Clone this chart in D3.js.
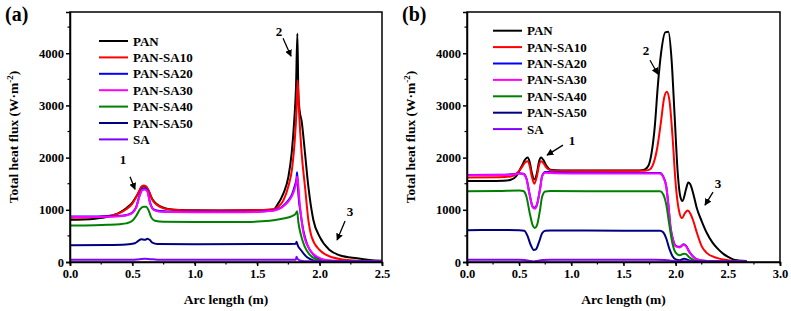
<!DOCTYPE html>
<html>
<head>
<meta charset="utf-8">
<script src="https://cdn.jsdelivr.net/npm/d3@7"></script>
<style>
  body { margin: 0; background: #fff; }
  svg text { font-family: "Liberation Serif", "Times New Roman", "DejaVu Serif", serif !important; font-weight: bold; }
</style>
</head>
<body>
<svg id="chart"></svg>
<script>
let width = 791
let height = 311

let seriesNames = ['PAN', 'PAN-SA10', 'PAN-SA20', 'PAN-SA30', 'PAN-SA40', 'PAN-SA50', 'SA']
let seriesColors = ['#000000', '#ff0000', '#0000ff', '#ff00ff', '#008000', '#000080', '#8000ff']
let yTicks = [0, 1000, 2000, 3000, 4000]
let xTicksA = [0, 0.5, 1.0, 1.5, 2.0, 2.5]
let xTicksB = [0, 0.5, 1.0, 1.5, 2.0, 2.5, 3.0]

// panel (a): [arc length (m), heat flux (W/m2)]
let panA_PAN = [[0,810],[0.1,815],[0.2,830],[0.3,865],[0.4,950],[0.45,1030],[0.5,1140],[0.55,1330],[0.57,1420],[0.59,1450],[0.61,1440],[0.63,1360],[0.66,1200],[0.7,1100],[0.75,1040],[0.8,1010],[0.9,995],[1.0,990],[1.2,988],[1.4,990],[1.55,995],[1.63,1005],[1.66,1090],[1.71,1314],[1.75,1633],[1.776,2080],[1.797,2718],[1.811,3355],[1.822,4380],[1.83,3200],[1.84,2900],[1.856,2700],[1.883,2086],[1.91,1442],[1.95,804],[2.0,485],[2.08,230],[2.16,130],[2.3,70],[2.4,40],[2.5,25]]
let panA_SA10 = [[0,850],[0.1,852],[0.2,860],[0.3,880],[0.4,940],[0.45,1010],[0.5,1120],[0.55,1340],[0.57,1440],[0.59,1465],[0.61,1450],[0.63,1370],[0.66,1190],[0.7,1090],[0.75,1030],[0.8,1005],[0.9,992],[1.0,988],[1.2,986],[1.4,990],[1.55,995],[1.63,1010],[1.67,1060],[1.71,1180],[1.75,1450],[1.78,1800],[1.8,2300],[1.815,2900],[1.824,3480],[1.835,2900],[1.856,2086],[1.883,1442],[1.91,804],[1.936,485],[2.0,230],[2.05,140],[2.1,90],[2.2,45],[2.3,25],[2.5,12]]
let panA_SA20 = [[0,870],[0.2,872],[0.3,875],[0.4,885],[0.45,900],[0.5,950],[0.53,1050],[0.56,1300],[0.58,1400],[0.6,1415],[0.62,1370],[0.64,1150],[0.67,1010],[0.72,975],[0.8,965],[1.0,962],[1.4,962],[1.5,965],[1.6,980],[1.65,1000],[1.7,1060],[1.75,1180],[1.78,1300],[1.8,1450],[1.815,1600],[1.82,1720],[1.83,1300],[1.85,900],[1.87,600],[1.9,340],[1.95,140],[2.0,60],[2.1,20],[2.3,10],[2.5,8]]
let panA_SA30 = [[0,860],[0.2,862],[0.3,866],[0.4,878],[0.45,892],[0.5,940],[0.53,1040],[0.56,1280],[0.58,1380],[0.6,1390],[0.62,1350],[0.64,1140],[0.67,1000],[0.72,965],[0.8,957],[1.0,955],[1.4,955],[1.5,958],[1.6,975],[1.65,995],[1.7,1050],[1.75,1160],[1.78,1270],[1.8,1400],[1.815,1540],[1.82,1640],[1.843,1060],[1.87,560],[1.92,240],[1.98,100],[2.05,40],[2.2,15],[2.5,8]]
let panA_SA40 = [[0,700],[0.2,705],[0.3,712],[0.4,725],[0.45,740],[0.5,790],[0.53,880],[0.56,1010],[0.59,1060],[0.61,1060],[0.63,990],[0.65,860],[0.68,790],[0.75,770],[1.0,765],[1.4,768],[1.6,790],[1.7,830],[1.78,880],[1.81,930],[1.82,970],[1.83,760],[1.85,520],[1.88,300],[1.92,140],[1.97,55],[2.05,15],[2.5,5]]
let panA_SA50 = [[0,320],[0.3,325],[0.45,335],[0.52,360],[0.55,410],[0.57,435],[0.6,425],[0.62,445],[0.64,420],[0.66,370],[0.7,345],[1.0,342],[1.7,345],[1.81,350],[1.815,390],[1.825,320],[1.85,230],[1.9,90],[1.95,30],[2.0,10],[2.5,5]]
let panA_SA = [[0,42],[0.5,44],[0.56,55],[0.6,60],[0.64,55],[0.7,45],[1.0,44],[1.81,45],[1.815,100],[1.825,55],[1.85,25],[1.9,15],[2.5,12]]

// panel (b)
let panB_PAN = [[0,1550],[0.2,1550],[0.35,1555],[0.42,1575],[0.47,1640],[0.52,1820],[0.56,1970],[0.58,2000],[0.6,1920],[0.62,1720],[0.645,1580],[0.67,1700],[0.69,1920],[0.71,2000],[0.73,1960],[0.76,1850],[0.8,1770],[0.9,1755],[1.2,1755],[1.5,1755],[1.65,1755],[1.7,1770],[1.74,1850],[1.77,2100],[1.8,2600],[1.83,3400],[1.86,4000],[1.9,4400],[1.93,4410],[1.96,3900],[1.99,2800],[2.02,1700],[2.045,1250],[2.065,1170],[2.1,1400],[2.12,1525],[2.14,1490],[2.17,1300],[2.2,1050],[2.25,780],[2.3,550],[2.35,380],[2.4,260],[2.46,150],[2.5,100],[2.55,50],[2.6,30],[2.68,18]]
let panB_SA10 = [[0,1620],[0.3,1625],[0.42,1640],[0.47,1680],[0.52,1800],[0.56,1910],[0.58,1930],[0.6,1850],[0.62,1650],[0.645,1500],[0.67,1640],[0.69,1850],[0.71,1930],[0.73,1900],[0.76,1810],[0.8,1760],[0.9,1750],[1.5,1750],[1.7,1750],[1.75,1770],[1.78,1850],[1.82,2150],[1.86,2700],[1.89,3150],[1.915,3260],[1.94,3100],[1.97,2400],[2.0,1500],[2.03,1000],[2.06,840],[2.09,940],[2.115,985],[2.14,930],[2.17,780],[2.2,580],[2.25,300],[2.3,170],[2.4,75],[2.5,35],[2.6,18],[2.68,10]]
let panB_SA20 = [[0,1665],[0.3,1670],[0.45,1685],[0.5,1700],[0.54,1690],[0.57,1600],[0.6,1300],[0.63,1060],[0.65,1040],[0.67,1100],[0.7,1400],[0.72,1650],[0.75,1725],[0.8,1720],[1.0,1710],[1.5,1705],[1.85,1705],[1.88,1640],[1.91,1450],[1.93,1100],[1.95,680],[1.98,390],[2.0,310],[2.04,290],[2.075,340],[2.1,310],[2.13,200],[2.17,100],[2.2,55],[2.3,20],[2.5,10],[2.68,5]]
let panB_SA30 = [[0,1660],[0.3,1665],[0.45,1680],[0.5,1695],[0.54,1685],[0.57,1590],[0.6,1290],[0.63,1045],[0.65,1020],[0.67,1085],[0.7,1390],[0.72,1640],[0.75,1710],[0.8,1705],[1.0,1698],[1.5,1695],[1.85,1695],[1.88,1630],[1.91,1440],[1.93,1090],[1.95,670],[1.98,380],[2.0,300],[2.04,280],[2.075,330],[2.1,300],[2.13,190],[2.17,95],[2.2,50],[2.3,18],[2.5,9],[2.68,5]]
let panB_SA40 = [[0,1355],[0.3,1360],[0.5,1370],[0.54,1360],[0.57,1250],[0.6,950],[0.63,700],[0.65,650],[0.67,700],[0.7,1000],[0.72,1250],[0.75,1350],[0.8,1360],[1.5,1355],[1.85,1355],[1.88,1300],[1.91,1100],[1.94,700],[1.97,350],[2.0,180],[2.04,130],[2.08,160],[2.1,150],[2.13,90],[2.17,40],[2.2,20],[2.3,8],[2.68,3]]
let panB_SA50 = [[0,610],[0.3,612],[0.5,610],[0.55,600],[0.58,500],[0.61,330],[0.64,230],[0.66,240],[0.69,380],[0.72,550],[0.75,600],[0.8,605],[1.5,600],[1.85,600],[1.88,570],[1.91,450],[1.94,250],[1.97,110],[2.0,50],[2.04,35],[2.08,60],[2.1,55],[2.13,30],[2.2,10],[2.68,3]]
let panB_SA = [[0,45],[0.5,45],[0.55,40],[0.6,20],[0.64,10],[0.68,25],[0.72,40],[0.8,45],[1.8,45],[1.9,40],[1.95,25],[2.0,15],[2.1,12],[2.68,8]]

// annotations: label, label pos, arrow start, arrow end (data units)
let notesA = [
  ['1', [0.425, 1880], [0.481, 1633], [0.521, 1392]],
  ['2', [1.675, 4330], [1.707, 4287], [1.771, 3943]],
  ['3', [2.244, 890], [2.204, 785], [2.14, 421]]
]
let notesB = [
  ['1', [1.006, 2250], [0.92, 2239], [0.767, 2048]],
  ['2', [1.716, 3970], [1.754, 3866], [1.83, 3598]],
  ['3', [2.406, 1420], [2.358, 1340], [2.281, 1091]]
]

let fontFam = '"Liberation Serif", "Times New Roman", serif'

let svg = d3.select('#chart').attr('width', width).attr('height', height)

svg.append('defs').append('marker')
   .attr('id', 'arrow')
   .attr('viewBox', '0 0 10 10')
   .attr('refX', 9).attr('refY', 5)
   .attr('markerWidth', 7).attr('markerHeight', 7)
   .attr('markerUnits', 'userSpaceOnUse')
   .attr('orient', 'auto')
   .append('path')
   .attr('d', 'M0,0 L10,5 L0,10 z')
   .attr('fill', '#000')

let drawPanel = (opts) => {
    let xScale = d3.scaleLinear().domain(opts.xDomain).range([opts.left, opts.right])
    let yScale = d3.scaleLinear().domain([0, 4790]).range([262, 12])
    let g = svg.append('g').attr('font-family', fontFam).attr('font-weight', 'bold')

    // lines
    let line = d3.line()
                 .x(d => xScale(d[0]))
                 .y(d => yScale(d[1]))
                 .curve(d3.curveMonotoneX)
    opts.series.forEach((s, i) => {
        g.append('path')
         .datum(s)
         .attr('d', line)
         .attr('fill', 'none')
         .attr('stroke', seriesColors[i])
         .attr('stroke-width', 2)
         .attr('stroke-linejoin', 'round')
    })

    // frame
    g.append('rect')
     .attr('x', opts.left).attr('y', 12)
     .attr('width', opts.right - opts.left).attr('height', 250)
     .attr('fill', 'none').attr('stroke', '#000').attr('stroke-width', 1.5)

    // axes
    let minorX = d3.range(opts.xDomain[0], opts.xDomain[1] + 0.01, 0.25)
    let xAxis = d3.axisBottom(xScale).tickValues(opts.xTicks).tickFormat(d3.format('.1f')).tickSize(4).tickPadding(3)
    let xg = g.append('g').attr('transform', 'translate(0,262)').call(xAxis)
    xg.selectAll('.tick line').attr('stroke-width', 1.5)
    xg.append('g').selectAll('line').data(minorX).enter().append('line')
      .attr('x1', d => xScale(d)).attr('x2', d => xScale(d))
      .attr('y1', 0).attr('y2', 2.5).attr('stroke', '#000').attr('stroke-width', 1.2)

    let yAxis = d3.axisLeft(yScale).tickValues(yTicks).tickFormat(d3.format('d')).tickSize(4).tickPadding(2)
    let yg = g.append('g').attr('transform', 'translate(' + opts.left + ',0)').call(yAxis)
    yg.selectAll('.tick line').attr('stroke-width', 1.5)
    yg.append('g').selectAll('line').data([500, 1500, 2500, 3500, 4500]).enter().append('line')
      .attr('x1', 0).attr('x2', -2.5)
      .attr('y1', d => yScale(d)).attr('y2', d => yScale(d))
      .attr('stroke', '#000').attr('stroke-width', 1.2)

    g.selectAll('.domain').attr('stroke-width', 1.5)
    xg.attr('font-family', fontFam).attr('font-size', 12.5)
    yg.attr('font-family', fontFam).attr('font-size', 12.5)
    g.selectAll('.tick text').attr('fill', '#000')

    // titles
    g.append('text')
     .attr('x', (opts.left + opts.right) / 2).attr('y', 304)
     .attr('text-anchor', 'middle').attr('font-size', 13.5)
     .text('Arc length (m)')
    let yt = g.append('text')
              .attr('transform', 'translate(' + (opts.left - 52) + ',137) rotate(-90)')
              .attr('text-anchor', 'middle').attr('font-size', 13.5)
    yt.append('tspan').text('Total heat flux (W·m')
    yt.append('tspan').attr('dy', -5).attr('font-size', 9).text('-2')
    yt.append('tspan').attr('dy', 5).text(')')

    g.append('text')
     .attr('x', opts.left - 65).attr('y', 21)
     .attr('font-size', 20)
     .text(opts.label)

    // legend
    seriesNames.forEach((name, i) => {
        let ly = opts.legendY + i * 16.4
        g.append('line')
         .attr('x1', opts.legendX).attr('x2', opts.legendX + 29)
         .attr('y1', ly).attr('y2', ly)
         .attr('stroke', seriesColors[i]).attr('stroke-width', 2)
        g.append('text')
         .attr('x', opts.legendX + 34).attr('y', ly + 4.5)
         .attr('font-size', 13)
         .text(name)
    })

    // annotations
    opts.notes.forEach(n => {
        g.append('text')
         .attr('x', xScale(n[1][0])).attr('y', yScale(n[1][1]))
         .attr('text-anchor', 'middle').attr('font-size', 13)
         .text(n[0])
        g.append('line')
         .attr('x1', xScale(n[2][0])).attr('y1', yScale(n[2][1]))
         .attr('x2', xScale(n[3][0])).attr('y2', yScale(n[3][1]))
         .attr('stroke', '#000').attr('stroke-width', 1.3)
         .attr('marker-end', 'url(#arrow)')
    })
}

drawPanel({
    label: '(a)', left: 70, right: 382, xDomain: [0, 2.5], xTicks: xTicksA,
    series: [panA_PAN, panA_SA10, panA_SA20, panA_SA30, panA_SA40, panA_SA50, panA_SA],
    legendX: 99, legendY: 41, notes: notesA
})
drawPanel({
    label: '(b)', left: 467, right: 780, xDomain: [0, 3.0], xTicks: xTicksB,
    series: [panB_PAN, panB_SA10, panB_SA20, panB_SA30, panB_SA40, panB_SA50, panB_SA],
    legendX: 493, legendY: 30.7, notes: notesB
})
</script>
</body>
</html>
